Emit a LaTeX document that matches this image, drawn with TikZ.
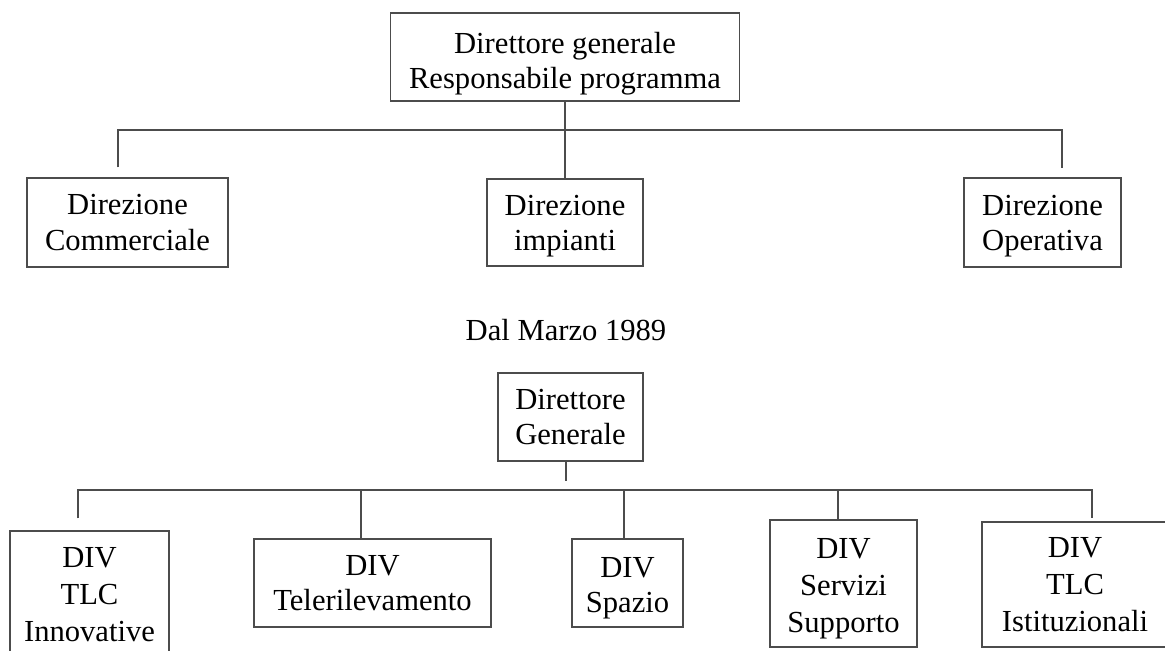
\documentclass[tikz,border=0pt]{standalone}
\usepackage{fontspec}
\setmainfont{Liberation Serif}
\newcommand{\lift}[1]{\rule{0pt}{#1}}
\tikzset{
  unit/.style={draw=black!70, line width=0.6pt, align=center, inner sep=0pt,
    font=\fontsize{15.3}{17.6}\selectfont},
  tall/.style={unit, font=\fontsize{15.3}{18.5}\selectfont},
  link/.style={draw=black!70, line width=0.6pt},
}
\begin{document}
\begin{tikzpicture}[x=0.5pt,y=-0.5pt]
    \useasboundingbox (0,0) rectangle (1165,651);
    \clip (0,0) rectangle (1165,651);
    % prima del 1989
    \node[unit, minimum width=174.5pt, minimum height=44pt] (dg) at (565,57) {\lift{17pt}Direttore generale\\Responsabile programma};
    \node[unit, minimum width=100.5pt, minimum height=44.5pt] (com) at (127.5,222.5) {Direzione\\Commerciale};
    \node[unit, minimum width=78pt, minimum height=43.5pt] (imp) at (565,222.5) {\lift{13.5pt}Direzione\\impianti};
    \node[unit, minimum width=78.5pt, minimum height=44.5pt] (op) at (1042.5,222.5) {\lift{13.5pt}Direzione\\Operativa};
    \coordinate (c1) at (118,130);
    \coordinate (c3) at (1062,130);
    \draw[link] (dg) -- (imp);
    \draw[link, shorten <=5pt, shorten >=4.5pt] (com.north -| c1) -- (c1) -- (c3) -- (op.north -| c3);
    \node[font=\fontsize{15.3}{17.6}\selectfont, anchor=base] (dal) at (566,341) {Dal Marzo 1989};
    % dal 1989
    \node[unit, minimum width=72.5pt, minimum height=44pt] (dg2) at (570.5,417) {Direttore\\Generale};
    \node[tall, minimum width=79.5pt, minimum height=64pt] (inn) at (89.5,595) {DIV\\TLC\\Innovative};
    \node[unit, minimum width=118.5pt, minimum height=44pt] (tel) at (372.5,583) {DIV\\Telerilevamento};
    \node[unit, minimum width=55.5pt, minimum height=44pt] (spa) at (627.5,583) {\lift{14.9pt}DIV\\Spazio};
    \node[tall, minimum width=73.5pt, minimum height=63.5pt] (ser) at (843.5,583.5) {\lift{14.8pt}DIV\\Servizi\\Supporto};
    \node[tall, minimum width=93pt, minimum height=62.5pt] (ist) at (1075,584.5) {DIV\\TLC\\Istituzionali};
    \coordinate (k0) at (566,490);
    \coordinate (k1) at (78,490);
    \coordinate (k2) at (361,490);
    \coordinate (k3) at (624,490);
    \coordinate (k4) at (838,490);
    \coordinate (k5) at (1092,490);
    \draw[link, shorten >=4.5pt] (dg2.south -| k0) -- (k0);
    \draw[link, shorten <=6pt, shorten >=1.5pt] (inn.north -| k1) -- (k1) -- (k5) -- (ist.north -| k5);
    \foreach \k/\b in {k2/tel,k3/spa,k4/ser}
      \draw[link] (\k) -- (\b.north -| \k);
\end{tikzpicture}
\end{document}
